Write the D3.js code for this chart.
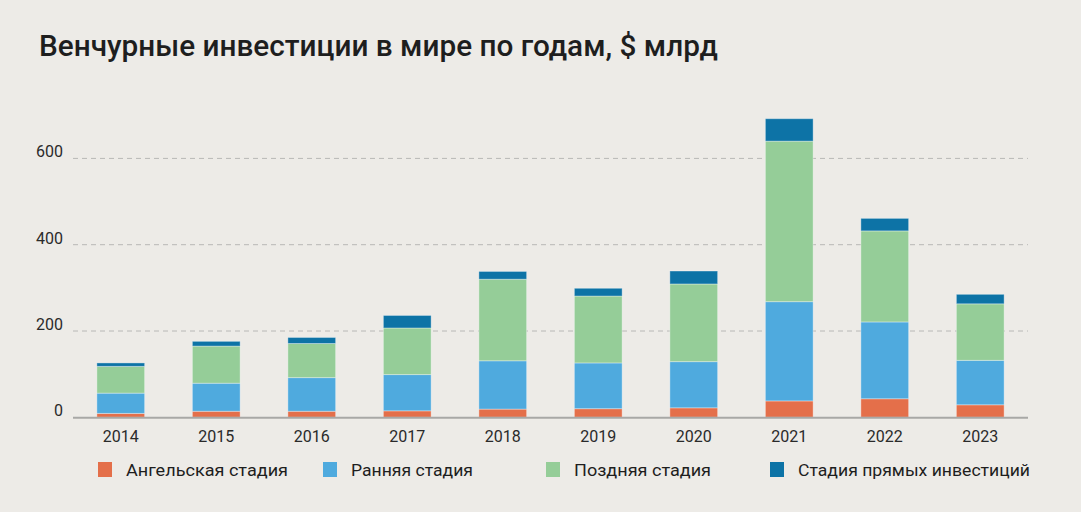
<!DOCTYPE html>
<html>
<head>
<meta charset="utf-8">
<script src="https://cdn.jsdelivr.net/npm/d3@7"></script>
<style>
  body { margin: 0; background: #edebe7; }
  svg { display: block; font-family: Roboto, "Noto Sans", sans-serif; }
</style>
</head>
<body>
<svg id="chart" width="1081" height="512"></svg>
<script>
// data, $ bn
const years = ["2014", "2015", "2016", "2017", "2018", "2019", "2020", "2021", "2022", "2023"];
const angel = [9, 14, 14, 15, 19, 20, 22, 38, 43, 29];
const early = [47, 65, 78, 84, 112, 106, 107, 230, 178, 103];
const late = [62, 86, 79, 108, 189, 155, 180, 372, 211, 131];
const pe = [8, 11, 14, 29, 18, 18, 30, 52, 29, 22];
const stageNames = ["Ангельская стадия", "Ранняя стадия", "Поздняя стадия", "Стадия прямых инвестиций"];
const yTicks = [0, 200, 400, 600];
const title = "Венчурные инвестиции в мире по годам, $ млрд";

const colors = ["#e46f4a", "#4faade", "#95cd98", "#0d73a6"];
const keys = ["angel", "early", "late", "pe"];

const rows = years.map((y, i) => ({year: y, angel: angel[i], early: early[i], late: late[i], pe: pe[i]}));
const stack = d3.stack().keys(keys)(rows);

const svg = d3.select("#chart");

// title
svg.append("text")
    .attr("x", 39)
    .attr("y", 56)
    .attr("font-size", 30)
    .attr("font-weight", 500)
    .attr("fill", "#1e1e1e")
    .attr("textLength", 679)
    .attr("lengthAdjust", "spacingAndGlyphs")
    .text(title);

const x = d3.scaleBand()
    .domain(years)
    .range([73, 1028])
    .paddingInner(0.5)
    .paddingOuter(0.25);

const y = d3.scaleLinear()
    .domain([0, 600])
    .range([417.3, 158.4]);

// grid lines
svg.append("g")
    .selectAll("line")
    .data(yTicks.filter(d => d > 0))
    .join("line")
    .attr("x1", 73)
    .attr("x2", 1028)
    .attr("y1", d => y(d))
    .attr("y2", d => y(d))
    .attr("stroke", "#b8b8b6")
    .attr("stroke-width", 1)
    .attr("stroke-dasharray", "5,4");

// y labels
svg.append("g")
    .selectAll("text")
    .data(yTicks)
    .join("text")
    .attr("x", 63)
    .attr("y", d => y(d) - 1)
    .attr("text-anchor", "end")
    .attr("font-size", 16)
    .attr("fill", "#2a2a2a")
    .text(d => d);

// bars
svg.append("g")
    .selectAll("g")
    .data(stack)
    .join("g")
    .attr("fill", (d, i) => colors[i])
    .selectAll("rect")
    .data(d => d)
    .join("rect")
    .attr("x", d => x(d.data.year))
    .attr("width", x.bandwidth())
    .attr("y", d => y(d[1]))
    .attr("height", d => y(d[0]) - y(d[1]))
    .attr("stroke", "rgba(255,255,255,0.35)")
    .attr("stroke-width", 1);

// baseline
svg.append("line")
    .attr("x1", 73)
    .attr("x2", 1028)
    .attr("y1", y(0) + 0.5)
    .attr("y2", y(0) + 0.5)
    .attr("stroke", "#a8a8a6")
    .attr("stroke-width", 2);

// x axis labels
svg.append("g")
    .attr("transform", `translate(0,${y(0)})`)
    .call(d3.axisBottom(x).tickSize(0).tickPadding(13))
    .call(g => g.select(".domain").remove())
    .call(g => g.selectAll("text")
        .attr("font-size", 16)
        .attr("font-family", "Roboto, sans-serif")
        .attr("fill", "#2a2a2a"));

// legend
const legendX = [98, 323, 546, 770];
const legendW = [162, 122, 137, 232];
const legend = svg.append("g")
    .selectAll("g")
    .data(stageNames)
    .join("g")
    .attr("transform", (d, i) => `translate(${legendX[i]},462)`);
legend.append("rect")
    .attr("width", 14)
    .attr("height", 15)
    .attr("fill", (d, i) => colors[i]);
legend.append("text")
    .attr("x", 28)
    .attr("y", 14)
    .attr("font-size", 17)
    .attr("fill", "#1e1e1e")
    .attr("textLength", (d, i) => legendW[i])
    .attr("lengthAdjust", "spacingAndGlyphs")
    .text(d => d);
</script>
</body>
</html>
